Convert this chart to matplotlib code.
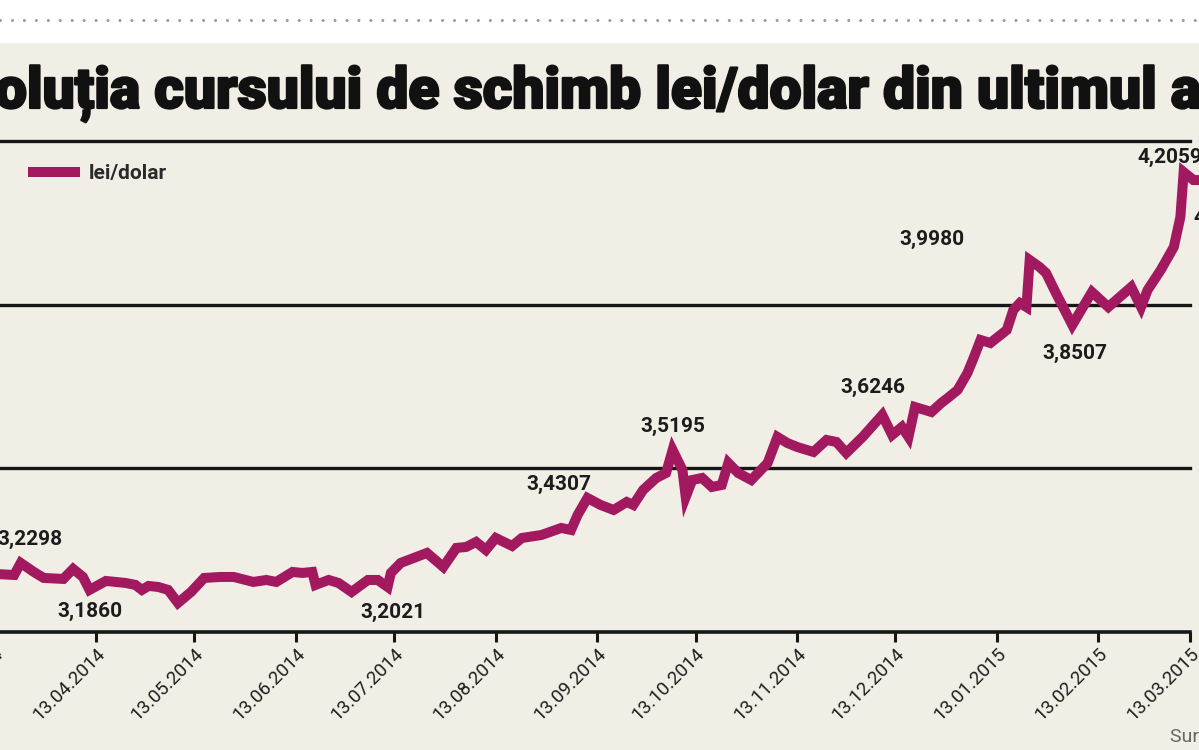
import matplotlib.pyplot as plt
import matplotlib.patheffects as pe
import pandas as pd
from matplotlib.lines import Line2D
from matplotlib.patches import Rectangle

# zile de la 13.03.2014 si cursul lei/dolar
zile = [0, 6, 8, 12, 15, 21, 24, 27, 29, 34,
        40, 43, 45, 47, 50, 53, 56, 60, 64, 69,
        73, 79, 83, 86, 91, 94, 97, 98, 102, 105,
        109, 114, 117, 120, 121, 124, 132, 137, 141, 144,
        147, 150, 153, 158, 161, 167, 173, 176, 178, 181,
        185, 189, 193, 195, 198, 202, 205, 207, 210, 211,
        213, 216, 219, 222, 224, 227, 231, 236, 239, 242,
        245, 250, 254, 257, 260, 265, 271, 274, 277, 279,
        281, 286, 289, 291, 294, 297, 299, 301, 304, 309,
        311, 313, 315, 316, 319, 321, 324, 329, 335, 340,
        347, 350, 352, 356, 360, 362, 363, 366, 368, 369]
curs = [3.2335, 3.2310, 3.2601, 3.2383, 3.2238, 3.2214, 3.2456, 3.2262, 3.1948, 3.2165,
        3.2117, 3.2069, 3.1948, 3.2044, 3.2020, 3.1948, 3.1633, 3.1899, 3.2238, 3.2262,
        3.2262, 3.2141, 3.2189, 3.2141, 3.2383, 3.2359, 3.2383, 3.2069, 3.2189, 3.2117,
        3.1899, 3.2189, 3.2189, 3.2020, 3.2359, 3.2601, 3.2843, 3.2504, 3.2964, 3.2988,
        3.3109, 3.2915, 3.3205, 3.3012, 3.3205, 3.3278, 3.3447, 3.3399, 3.3762, 3.4173,
        3.4004, 3.3883, 3.4076, 3.4004, 3.4367, 3.4657, 3.4778, 3.5334, 3.4850, 3.4197,
        3.4608, 3.4657, 3.4439, 3.4488, 3.5020, 3.4778, 3.4608, 3.5020, 3.5649, 3.5504,
        3.5407, 3.5286, 3.5576, 3.5528, 3.5262, 3.5649, 3.6181, 3.5697, 3.5891, 3.5649,
        3.6374, 3.6253, 3.6471, 3.6592, 3.6786, 3.7197, 3.7584, 3.7995, 3.7923, 3.8237,
        3.8721, 3.8890, 3.8793, 3.9930, 3.9761, 3.9616, 3.9132, 3.8358, 3.9156, 3.8793,
        3.9277, 3.8793, 3.9205, 3.9688, 4.0245, 4.0970, 4.2059, 4.1865, 4.1865, 4.1260]

# valori marcate pe grafic
eticheta_zile = [8, 29, 120, 181, 207, 271, 316, 329, 363, 369]
eticheta_text = ["3,2298", "3,1860", "3,2021", "3,4307", "3,5195",
                 "3,6246", "3,9980", "3,8507", "4,2059", "4,1260"]
deplasari = [(9, 23), (0, -22), (5, -25), (-29, 14), (0, 24),
             (-9, 28), (-98, 21), (3, -28), (-14, 15), (-10, -12)]

luni = ["13.03.2014", "13.04.2014", "13.05.2014", "13.06.2014", "13.07.2014",
        "13.08.2014", "13.09.2014", "13.10.2014", "13.11.2014", "13.12.2014",
        "13.01.2015", "13.02.2015", "13.03.2015"]

fundal = "#f1eee5"
mov = "#a3195f"
W, H = 1199, 750

fig = plt.figure(figsize=(W / 100, H / 100), dpi=100, facecolor=fundal)

# banda alba de sus cu linia punctata
fig.add_artist(Rectangle((0, 1 - 42 / H), 1, 42 / H, transform=fig.transFigure,
                         color="white", zorder=0))
fig.add_artist(Line2D([0, 1], [1 - 20 / H, 1 - 20 / H], transform=fig.transFigure,
                      color="#9a9a9a", lw=2.2, ls=(0, (0.01, 3.9)),
                      dash_capstyle="round"))

ax = fig.add_axes([-5.5 / W, (H - 632) / H, 1195.7 / W, 491 / H])
ax.set_facecolor("none")

start = pd.Timestamp("2014-03-13")
x = start + pd.to_timedelta(zile, unit="D")
ymin, ymax = 3.093, 4.281
ax.set_xlim(start, pd.Timestamp("2015-03-13"))
ax.set_ylim(ymin, ymax)

for g in [ymin + (ymax - ymin) * k / 3 for k in (1, 2, 3)]:
    ax.axhline(g, color="#161616", lw=2.4, zorder=1, clip_on=False)

ax.plot(x, curs, color=mov, lw=7.2, solid_joinstyle="miter", zorder=3,
        clip_on=False, label="lei/dolar")

for d, t, (dx, dy) in zip(eticheta_zile, eticheta_text, deplasari):
    i = zile.index(d)
    ax.annotate(t, xy=(x[i], curs[i]), xytext=(dx, dy), textcoords="offset pixels",
                ha="left" if d == 369 else "center", va="center",
                fontsize=15, fontweight="bold", family="Roboto", color="#1c1c1c",
                annotation_clip=False, zorder=4)

for s in ["top", "left", "right"]:
    ax.spines[s].set_visible(False)
ax.spines["bottom"].set_linewidth(2.6)
ax.spines["bottom"].set_color("#161616")
ax.set_yticks([])

pozitii = pd.to_datetime(luni, format="%d.%m.%Y")
ax.set_xticks(pozitii)
ax.set_xticklabels(luni, rotation=45, ha="right", va="top", rotation_mode="anchor",
                   fontsize=13.5, family="Roboto", color="#1e1e1e")
ax.tick_params(axis="x", direction="out", length=7, width=2.2, color="#161616", pad=2)

leg = ax.legend(loc="center left", bbox_to_anchor=(33 / W, 1 - 174 / H),
                bbox_transform=fig.transFigure, frameon=False, handlelength=2.0,
                handletextpad=0.7, borderpad=0, borderaxespad=0,
                prop={"family": "Roboto", "weight": "bold", "size": 15})
for txt in leg.get_texts():
    txt.set_color("#2a2a2a")

# titlul, taiat in stanga ca in original
titlu = "Evoluția cursului de schimb lei/dolar din ultimul an"
r = fig.canvas.get_renderer()
tmp = fig.text(0, 0, "oluția cursului de schimb lei/dolar din ultimul a",
               fontsize=36, fontweight="black", family="Roboto")
size = 36 * 1205 / tmp.get_window_extent(r).width
tmp.remove()
tmp = fig.text(0, 0, "Ev", fontsize=size, fontweight="black", family="Roboto")
wp = tmp.get_window_extent(r).width
tmp.remove()
fig.text(-wp / W - 5 / W, 1 - 108 / H, titlu, fontsize=size, fontweight="black",
         family="Roboto", color="#111111", va="baseline",
         path_effects=[pe.withStroke(linewidth=1.6, foreground="#111111")])

fig.text(1170 / W, 1 - 742 / H, "Sursa: BNR", fontsize=14, family="Roboto",
         color="#666666", va="baseline")

fig.savefig("out.png", dpi=100, facecolor=fundal)
